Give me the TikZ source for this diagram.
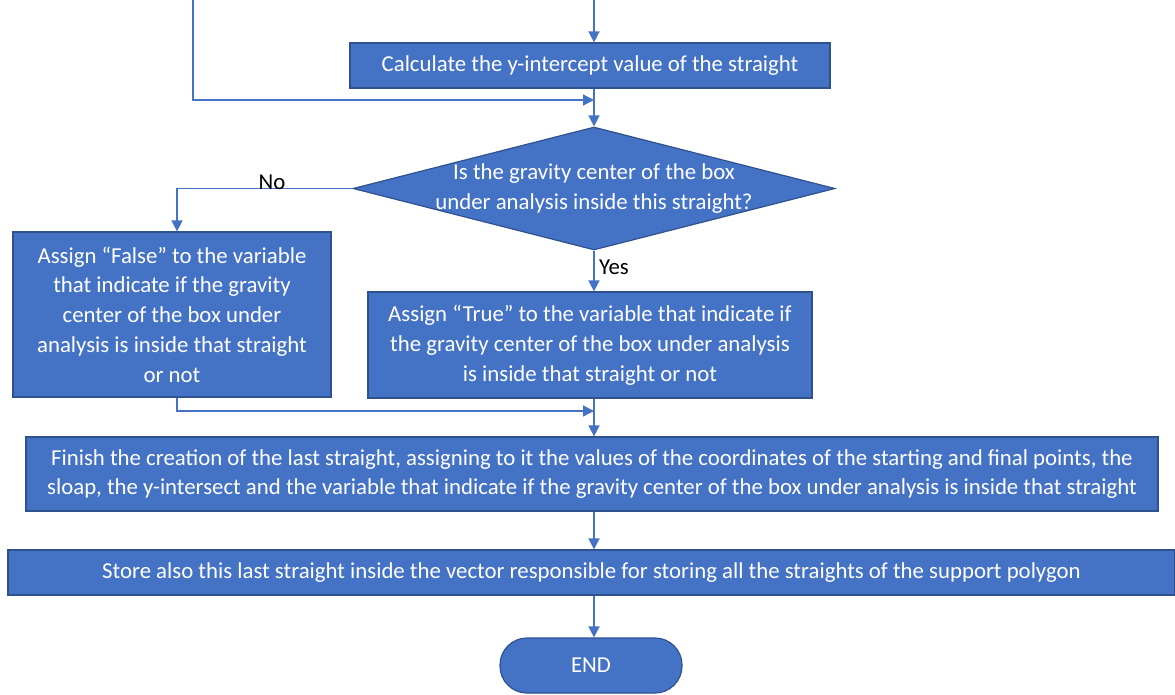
\documentclass[tikz,border=0pt]{standalone}
\usepackage{fontspec}
\setmainfont{Carlito}
\usetikzlibrary{arrows.meta,shapes.geometric}
\definecolor{boxfill}{HTML}{4472C4}
\definecolor{boxline}{HTML}{2F528F}
\tikzset{
  proc/.style={rectangle, fill=boxfill, draw=boxline, line width=1.2pt, text=white, align=center, inner sep=0pt,
    font=\fontsize{22.8}{29.8}\selectfont},
  decis/.style={diamond, fill=boxfill, draw=boxline, line width=1.2pt, inner sep=0pt},
  arr/.style={draw=boxfill, line width=1.5pt, -{Triangle[length=11pt,width=11pt]}},
  lbl/.style={text=black, inner sep=0pt, font=\fontsize{22.8}{29.8}\selectfont},
}
\begin{document}
\begin{tikzpicture}[x=1pt,y=-1pt]
\useasboundingbox (0,0) rectangle (1175,695);
\coordinate (ax) at (594,0);
\coordinate (t2) at (193,0);
\coordinate (j1) at (594,100);
\coordinate (j2) at (594,411);

\node[proc, minimum width=480pt, minimum height=45pt] (box1) at (590,65.5) {Calculate the y-intercept value of the straight};

\node[decis, minimum width=482pt, minimum height=123pt,
  label={[proc, fill=none, draw=none]center:{Is the gravity center of the box\\under analysis inside this straight?}}] (dec) at (594,188.5) {};

\node[proc, minimum width=318pt, minimum height=165pt] (box2) at (172,314.5) {Assign “False” to the variable\\that indicate if the gravity\\center of the box under\\analysis is inside that straight\\or not};

\node[proc, minimum width=444pt, minimum height=106pt] (box3) at (590,345) {Assign “True” to the variable that indicate if\\the gravity center of the box under analysis\\is inside that straight or not};

\node[proc, minimum width=1132pt, minimum height=74pt] (box4) at (592,474) {Finish the creation of the last straight, assigning to it the values of the coordinates of the starting and final points, the\\sloap, the y-intersect and the variable that indicate if the gravity center of the box under analysis is inside that straight};

\node[proc, minimum width=1167pt, minimum height=45pt] (box5) at (591.5,572.5) {Store also this last straight inside the vector responsible for storing all the straights of the support polygon};

\node[proc, rounded corners=27pt, minimum width=182pt, minimum height=55pt] (endn) at (591,665.5) {END};

% connectors
\draw[arr] (ax) -- (ax |- box1.north);
\draw[arr] (t2) |- (j1);
\draw[arr] (ax |- box1.south) -- (dec.north);
\draw[arr] (dec.west) -| ([xshift=5pt]box2.north);
\node[lbl] (no) at (272,182) {No};
\draw[arr] (dec.south) -- (ax |- box3.north);
\node[lbl] (yes) at (614,267) {Yes};
\draw[arr] ([xshift=5pt]box2.south) |- (j2);
\draw[arr] (ax |- box3.south) -- (ax |- box4.north);
\draw[arr] (ax |- box4.south) -- (ax |- box5.north);
\draw[arr] (ax |- box5.south) -- (ax |- endn.north);
\end{tikzpicture}
\end{document}
